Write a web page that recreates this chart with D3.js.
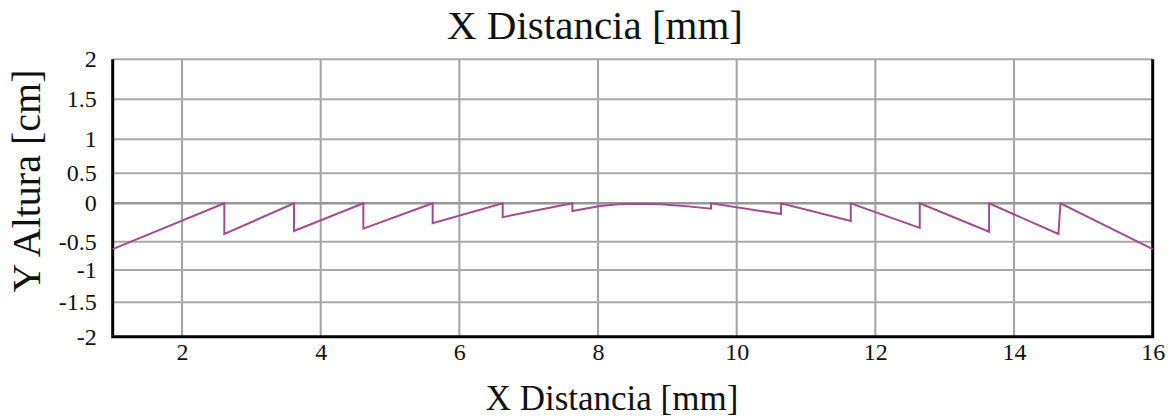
<!DOCTYPE html>
<html>
<head>
<meta charset="utf-8">
<script src="https://cdn.jsdelivr.net/npm/d3@7"></script>
<style>
  body { margin: 0; background: #fff; }
  text { font-family: "Liberation Serif", "Times New Roman", serif; fill: #111; }
</style>
</head>
<body>
<div id="chart"></div>
<script>
// tick values
var xTicks = [2, 4, 6, 8, 10, 12, 14, 16];
var yTicks = [-2, -1.5, -1, -0.5, 0, 0.5, 1, 1.5, 2];

// profile (x in mm, y in cm)
var distX = [1, 2.61, 2.61, 3.615, 3.615, 4.615, 4.615, 5.615, 5.615, 6.625, 6.625, 7.63, 7.63,
             8.03, 8.3, 8.6, 8.9, 9.3, 9.63, 9.63, 10.64, 10.64, 11.645, 11.645, 12.64, 12.64,
             13.64, 13.64, 14.64, 14.67, 16];
var altY  = [-0.63, 0, -0.4, 0, -0.36, 0, -0.33, 0, -0.26, 0, -0.18, 0, -0.1,
             -0.035, -0.012, -0.005, -0.012, -0.04, -0.07, 0, -0.14, 0, -0.23, 0, -0.32, 0,
             -0.37, 0, -0.40, 0, -0.63];

var width = 1171, height = 417;

var svg = d3.select("#chart")
  .append("svg")
    .attr("width", width)
    .attr("height", height);

var x = d3.scaleLinear()
  .domain([1, 16])
  .range([112.7, 1152.7]);

// the scanned grid is not evenly spaced, so map each tick to where its line sits
var y = d3.scaleLinear()
  .domain(yTicks)
  .range([336.7, 302.3, 270, 241.7, 203.3, 173.3, 139.3, 99.3, 59.3]);

// grid
svg.append("g")
  .selectAll("line")
  .data(xTicks.filter(function(d) { return d < 16; }))
  .enter().append("line")
    .attr("x1", function(d) { return x(d); })
    .attr("x2", function(d) { return x(d); })
    .attr("y1", y(2))
    .attr("y2", y(-2))
    .style("stroke", "#a3a3a3")
    .style("stroke-width", 2);

svg.append("g")
  .selectAll("line")
  .data(yTicks.filter(function(d) { return d > -2; }))
  .enter().append("line")
    .attr("x1", x(1))
    .attr("x2", x(16))
    .attr("y1", function(d) { return y(d); })
    .attr("y2", function(d) { return y(d); })
    .style("stroke", function(d) { return d === 0 ? "#969696" : "#a8a8a8"; })
    .style("stroke-width", function(d) { return d === 0 ? 2.5 : 2; });

// X axis labels
var xAxis = svg.append("g")
  .attr("transform", "translate(0," + y(-2) + ")")
  .call(d3.axisBottom(x).tickValues(xTicks).tickSize(0).tickPadding(6).tickFormat(d3.format("d")))
  .attr("font-family", "Liberation Serif, Times New Roman, serif")
  .attr("font-size", 24);
xAxis.select(".domain").remove();
xAxis.selectAll("text").attr("fill", "#111");

// Y axis labels
var yAxis = svg.append("g")
  .attr("transform", "translate(" + x(1) + ",0)")
  .call(d3.axisLeft(y).tickValues(yTicks).tickSize(0).tickPadding(16).tickFormat(function(d) { return String(d); }))
  .attr("font-family", "Liberation Serif, Times New Roman, serif")
  .attr("font-size", 24);
yAxis.select(".domain").remove();
yAxis.selectAll("text").attr("fill", "#111");

// frame: left, bottom, right in black
svg.append("path")
  .attr("d", "M" + x(1) + "," + y(2) + "V" + y(-2) + "H" + x(16) + "V" + y(2))
  .style("fill", "none")
  .style("stroke", "#000")
  .style("stroke-width", 3);

// profile line
var line = d3.line()
  .x(function(d, i) { return x(distX[i]); })
  .y(function(d, i) { return y(altY[i]); });

svg.append("path")
  .datum(distX)
  .attr("d", line)
  .style("fill", "none")
  .style("stroke", "#a24b91")
  .style("stroke-width", 2)
  .style("stroke-linejoin", "miter");

// titles
svg.append("text")
  .attr("x", 595)
  .attr("y", 39)
  .attr("text-anchor", "middle")
  .style("font-size", "41px")
  .text("X Distancia [mm]");

svg.append("text")
  .attr("x", 612)
  .attr("y", 410)
  .attr("text-anchor", "middle")
  .style("font-size", "35px")
  .text("X Distancia [mm]");

svg.append("text")
  .attr("transform", "translate(40,181) rotate(-90)")
  .attr("text-anchor", "middle")
  .style("font-size", "40px")
  .text("Y Altura [cm]");

console.log("profile done");
</script>
</body>
</html>
